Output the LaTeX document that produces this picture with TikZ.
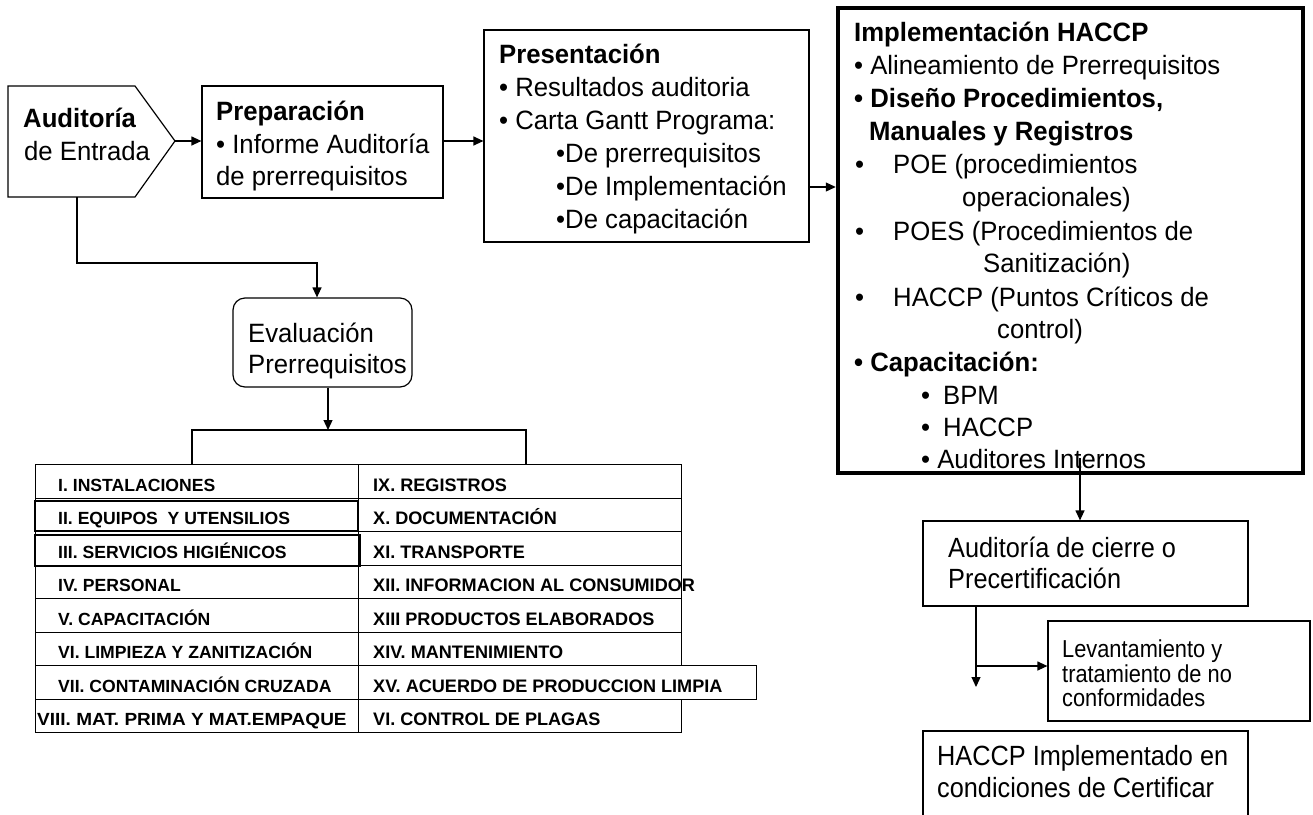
\documentclass[tikz,border=0pt]{standalone}
\usepackage{fontspec}
\setmainfont{Liberation Sans}[FakeStretch=0.97]
\newfontfamily\plainsans{Liberation Sans}
\newfontfamily\narrowsans{Liberation Sans}[FakeStretch=0.91]
\newfontfamily\narrowersans{Liberation Sans}[FakeStretch=0.89]
\usetikzlibrary{arrows.meta,fit}
\begin{document}
\begin{tikzpicture}[x=1pt,y=-1pt,
  box/.style={draw, line width=1.2pt, inner sep=0pt},
  ln/.style={line width=1.2pt},
  arr/.style={line width=1.2pt, -{Triangle[length=10pt,width=9pt]}},
  tx/.style={anchor=base west, inner sep=0pt, font=\fontsize{26.5}{30}\selectfont},
  tb/.style={anchor=base west, inner sep=0pt, font=\fontsize{26.5}{30}\selectfont\bfseries},
  tn/.style={anchor=base west, inner sep=0pt, font=\narrowsans\fontsize{27.8}{30}\selectfont},
  tt/.style={anchor=base west, inner sep=0pt, font=\plainsans\fontsize{17.6}{20}\selectfont\bfseries},
  tr/.style={anchor=base west, inner sep=0pt, font=\plainsans\fontsize{18.1}{20}\selectfont\bfseries},
  ts/.style={anchor=base west, inner sep=0pt, font=\narrowersans\fontsize{24.5}{25}\selectfont},
  cell/.style={draw, line width=1.2pt, anchor=north west, inner sep=0pt, minimum height=33.5pt},
]
\useasboundingbox (0,0) rectangle (1313,814);
\fill[white] (0,0) rectangle (1313,814);

% Auditoria de Entrada (pentagon)
\draw[line width=1.2pt] (8,86) -- (135,86) -- (175,141) -- (135,197) -- (8,197) -- cycle;
\coordinate (audtip) at (175,141);
\coordinate (audbot) at (77,197);
\node[tb] (a1) at (23,127) {Auditoría};
\node[tx] (a2) at (24,160) {de Entrada};

% boxes
\node[box, fit={(202,86)(443,198)}] (prep) {};
\node[box, fit={(484,30)(809,242)}] (pres) {};
\node[box, line width=4.5pt, fit={(838,8)(1303,473)}] (impl) {};
\node[box, rounded corners=12pt, fit={(233,298)(412,387)}] (eval) {};
\node[box, fit={(923,521)(1248,606)}] (cierre) {};
\node[box, fit={(1048,621)(1310,721)}] (lev) {};
\node[box, fit={(923,731)(1248,840)}] (final) {};

% Preparacion
\node[tb] (p1) at (216,120) {Preparación};
\node[tx] (p2) at (216,153) {• Informe Auditoría};
\node[tx] (p3) at (216,185) {de prerrequisitos};

% Presentacion
\node[tb] (r1) at (499,63) {Presentación};
\node[tx] (r2) at (499,96) {• Resultados auditoria};
\node[tx] (r3) at (499,129) {• Carta Gantt Programa:};
\node[tx] (r4) at (556,162) {•De prerrequisitos};
\node[tx] (r5) at (556,195) {•De Implementación};
\node[tx] (r6) at (556,228) {•De capacitación};

% Implementacion HACCP
\node[tb] (h1) at (854,41) {Implementación HACCP};
\node[tx] (h2) at (854,74) {• Alineamiento de Prerrequisitos};
\node[tb] (h3) at (854,107) {• Diseño Procedimientos,};
\node[tb] (h4) at (869,140) {Manuales y Registros};
\node[tx] (h5) at (855,173) {\makebox[38pt][l]{•}POE (procedimientos};
\node[tx] (h6) at (962,206) {operacionales)};
\node[tx] (h7) at (855,240) {\makebox[38pt][l]{•}POES (Procedimientos de};
\node[tx] (h8) at (983,272) {Sanitización)};
\node[tx] (h9) at (855,306) {\makebox[38pt][l]{•}HACCP (Puntos Críticos de};
\node[tx] (h10) at (997,338) {control)};
\node[tb] (h11) at (854,371) {• Capacitación:};
\node[tx] (h12) at (921,404) {\makebox[22pt][l]{•}BPM};
\node[tx] (h13) at (921,436) {\makebox[22pt][l]{•}HACCP};
\node[tx] (h14) at (921,468) {• Auditores Internos};

% Evaluacion
\node[tx] (e1t) at (248,342) {Evaluación};
\node[tx] (e2t) at (248,373) {Prerrequisitos};

% right bottom texts
\node[tn] (c1t) at (948,557) {Auditoría de cierre o};
\node[tn] (c2t) at (948,588) {Precertificación};
\node[ts] (l1t) at (1062,657) {Levantamiento y};
\node[ts] (l2t) at (1062,682) {tratamiento de no};
\node[ts] (l3t) at (1062,706) {conformidades};
\node[tn] (f1t) at (937,765) {HACCP Implementado en};
\node[tn] (f2t) at (937,797) {condiciones de Certificar};

% table
\foreach \i/\lx/\rw/\a/\b in {
  1/58/323/I. INSTALACIONES/IX. REGISTROS,
  2/58/323/II. EQUIPOS\ \ Y UTENSILIOS/X. DOCUMENTACIÓN,
  3/58/323/III. SERVICIOS HIGIÉNICOS/XI. TRANSPORTE,
  4/58/323/IV. PERSONAL/XII. INFORMACION AL CONSUMIDOR,
  5/58/323/V. CAPACITACIÓN/XIII PRODUCTOS ELABORADOS,
  6/58/323/VI. LIMPIEZA Y ZANITIZACIÓN/XIV. MANTENIMIENTO,
  7/58/398/VII. CONTAMINACIÓN CRUZADA/XV. ACUERDO DE PRODUCCION LIMPIA,
  8/37/323/\scalebox{1.08}[1]{VIII. MAT. PRIMA Y MAT.EMPAQUE}/VI. CONTROL DE PLAGAS}{
  \node[cell, minimum width=323pt] (L\i) at (35,{464+(\i-1)*33.5}) {};
  \node[cell, minimum width=\rw pt] (R\i) at (358,{464+(\i-1)*33.5}) {};
  \node[tt] (LT\i) at (\lx,{464+(\i-1)*33.5+27}) {\a};
  \node[tr] (RT\i) at (373,{464+(\i-1)*33.5+27}) {\b};
}
\draw[ln] (35,501) rectangle (358,531);
\draw[ln] (35,535) rectangle (360,566);

% connectors
\draw[arr] (audtip) -- (prep.west |- audtip);
\coordinate (k1) at (443,141);
\draw[arr] (k1) -- (k1 -| pres.west);
\coordinate (k2) at (809,187);
\draw[arr] (k2) -- (k2 -| impl.west);
\coordinate (k3) at (317,263);
\draw[arr] (audbot) |- (k3) -- (k3 |- eval.north);
\coordinate (k4) at (328,430);
\draw[arr] (eval.south -| k4) -- (k4);
\coordinate (k5) at (192,430);
\coordinate (k6) at (526,430);
\draw[ln] (L1.north -| k5) -- (k5) -- (k6) -- (k6 |- R1.north);
\coordinate (k7) at (1080,458);
\draw[arr] (k7) -- (k7 |- cierre.north);
\coordinate (k8) at (976,687);
\draw[arr] (cierre.south -| k8) -- (k8);
\coordinate (k9) at (976,666);
\draw[arr] (k9) -- (k9 -| lev.west);
\end{tikzpicture}
\end{document}
